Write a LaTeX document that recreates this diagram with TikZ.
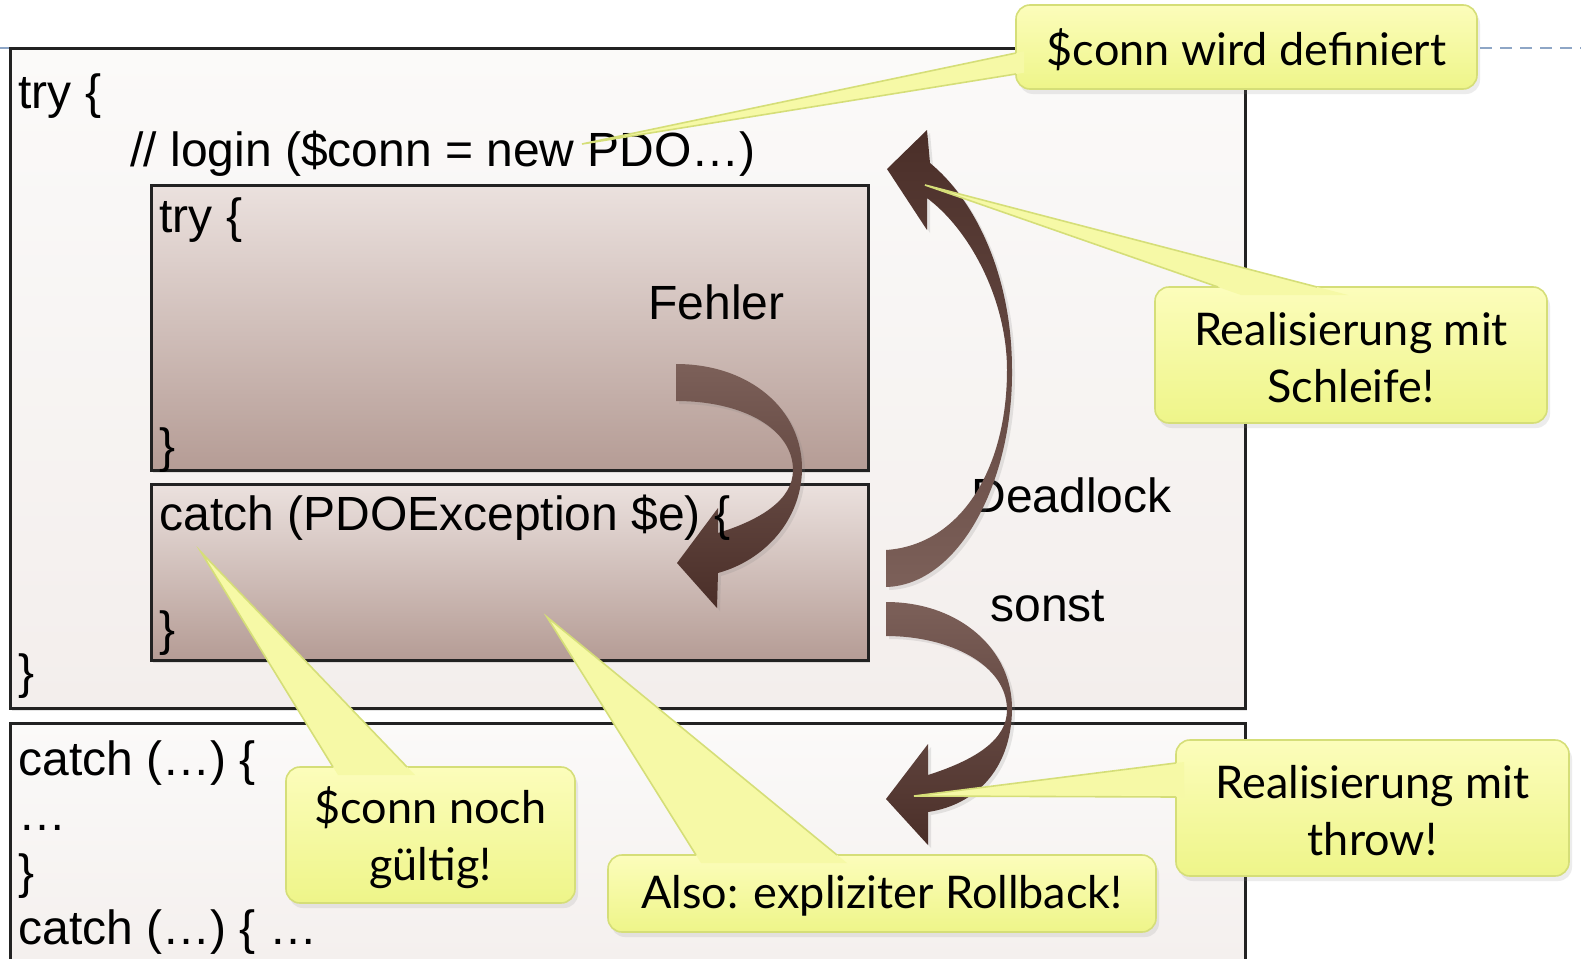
\documentclass[tikz,border=0pt]{standalone}
\usepackage{fontspec}
\setmainfont{Liberation Sans}
\newfontfamily\callfont{Lato}
\usetikzlibrary{shadows}
\definecolor{outerTop}{HTML}{FBFAF9}
\definecolor{outerBot}{HTML}{F3EEEC}
\definecolor{innerTop}{HTML}{EBE1DE}
\definecolor{innerBot}{HTML}{B59C95}
\definecolor{arrLight}{HTML}{7C6059}
\definecolor{arrDark}{HTML}{4A2E28}
\definecolor{calTop}{HTML}{FCFDBB}
\definecolor{calBot}{HTML}{EEF589}
\definecolor{calWedge}{HTML}{F6F9A6}
\definecolor{calLine}{HTML}{D5DE78}
\definecolor{dashBlue}{HTML}{8EA6C6}
\definecolor{boxLine}{HTML}{222222}
\tikzset{
  codebox/.style={draw=boxLine, line width=1.5pt, top color=outerTop, bottom color=outerBot,
    drop shadow={opacity=0.2, shadow xshift=1pt, shadow yshift=-1.5pt}},
  innerbox/.style={draw=boxLine, line width=1.5pt, top color=innerTop, bottom color=innerBot,
    drop shadow={opacity=0.2, shadow xshift=1pt, shadow yshift=-1.5pt}},
  code/.style={inner sep=0pt, anchor=base west, font=\fontsize{24}{28}\selectfont},
  calbox/.style={draw=calLine, line width=0.8pt, rounded corners=7pt, top color=calTop, bottom color=calBot,
    drop shadow={opacity=0.15, shadow xshift=1.5pt, shadow yshift=-2.5pt}, inner sep=0pt},
  caltext/.style={font=\callfont\fontsize{22.5}{28.5}\selectfont, align=center, inner sep=0pt, yshift=-1.25pt},
  wedgefill/.style={fill=calWedge},
  wedgeline/.style={draw=calLine, line width=0.8pt},
  bentarrow/.style={drop shadow={opacity=0.18, shadow xshift=1.5pt, shadow yshift=-1.5pt}}
}
\begin{document}
\begin{tikzpicture}[x=0.5pt, y=-0.5pt]
\useasboundingbox (0,0) rectangle (1581,959);
\clip (0,0) rectangle (1581,959);
\fill[white] (0,0) rectangle (1581,959);
% dashed guide line
\draw[dashBlue, line width=0.75pt, dash pattern=on 6pt off 4pt] (0,48) -- (1581,48);
% boxes
\draw[codebox] (10,48) rectangle (1245,708);
\draw[codebox] (10,723) rectangle (1245,1000);
\draw[innerbox] (151,185) rectangle (868,470);
\draw[innerbox] (151,484) rectangle (868,660);
% Fehler arrow
\shade[bentarrow, top color=arrLight, bottom color=arrDark]
 (676,364) .. controls (750,364) and (803,410) .. (802,470)
 .. controls (801,520) and (765,560) .. (718,573)
 -- (717,608) -- (677,563) -- (718,508) -- (718,533)
 .. controls (760,520) and (793,500) .. (793,470)
 .. controls (793,430) and (745,401) .. (676,401) -- cycle;
% code texts
\node[code] (try1) at (18,108) {try \{};
\node[code] (login) at (130,166) {// login (\$conn = new PDO…)};
\node[code] (try2) at (159,232) {try \{};
\node[code] (fehler) at (648,319) {Fehler};
\node[code] (close2) at (159,462) {\}};
\node[code] (catch1) at (159,530) {catch (PDOException \$e) \{};
\node[code] (close3) at (159,645) {\}};
\node[code] (close1) at (18,688) {\}};
\node[code] (deadlock) at (971,512) {Deadlock};
\node[code] (sonst) at (990,621) {sonst};
\node[code] (catch2) at (18,775) {catch (…) \{};
\node[code] (dots) at (18,830) {…};
\node[code] (close4) at (18,888) {\}};
\node[code] (catch3) at (18,944) {catch (…) \{ …};
% Deadlock arrow
\shade[bentarrow, top color=arrDark, bottom color=arrLight]
 (886,587) .. controls (960,585) and (1013,480) .. (1012,370)
 .. controls (1012,275) and (975,200) .. (930,163)
 -- (927,130) -- (887,169) -- (927,230) -- (927,198)
 .. controls (970,230) and (1007,300) .. (1007,370)
 .. controls (1007,470) and (960,545) .. (886,550) -- cycle;
% sonst arrow
\shade[bentarrow, top color=arrLight, bottom color=arrDark]
 (886,602) .. controls (960,602) and (1013,650) .. (1012,710)
 .. controls (1011,770) and (975,805) .. (928,812)
 -- (928,845) -- (886,799) -- (928,744) -- (928,775)
 .. controls (975,760) and (1007,740) .. (1007,710)
 .. controls (1007,665) and (950,636) .. (886,636) -- cycle;
% callout tips
\coordinate (tip1) at (582,144);
\coordinate (tip2) at (925,185);
\coordinate (tip3) at (914,796);
\coordinate (tip4) at (201,552);
\coordinate (tip5) at (547,617);
% callout 1
\node[calbox, minimum width=230.5pt, minimum height=42pt] (c1) at (1246.5,47) {};
\node[caltext] (c1t) at (c1) {\$conn wird definiert};
\fill[wedgefill] (tip1) -- (1024,51.3) -- (1024,72.7) -- cycle;
\draw[wedgeline] (1016,53) -- (tip1) -- (1016,74);
% callout 2
\node[calbox, minimum width=196pt, minimum height=68pt] (c2) at (1351,355) {};
\node[caltext] (c2t) at (c2) {Realisierung mit\\Schleife!};
\fill[wedgefill] (tip2) -- (1241,295) -- (1348,295) -- cycle;
\draw[wedgeline] (1218,287) -- (tip2) -- (1317,287);
% callout 3
\node[calbox, minimum width=196.5pt, minimum height=68pt] (c3) at (1372.5,808) {};
\node[caltext] (c3t) at (c3) {Realisierung mit\\throw!};
\fill[wedgefill] (tip3) -- (1184,762) -- (1184,797) -- cycle;
\draw[wedgeline] (1176,763) -- (tip3) -- (1176,797);
% callout 4
\node[calbox, minimum width=144.5pt, minimum height=68pt] (c4) at (430.5,835) {};
\node[caltext] (c4t) at (c4) {\$conn noch\\gültig!};
\fill[wedgefill] (tip4) -- (338,775) -- (415,775) -- cycle;
\draw[wedgeline] (333,767) -- (tip4) -- (407,767);
% callout 5
\node[calbox, minimum width=274pt, minimum height=38.5pt] (c5) at (882,893.5) {};
\node[caltext] (c5t) at (c5) {Also: expliziter Rollback!};
\fill[wedgefill] (tip5) -- (701,863) -- (847,863) -- cycle;
\draw[wedgeline] (696,855) -- (tip5) -- (837,855);
\end{tikzpicture}
\end{document}
